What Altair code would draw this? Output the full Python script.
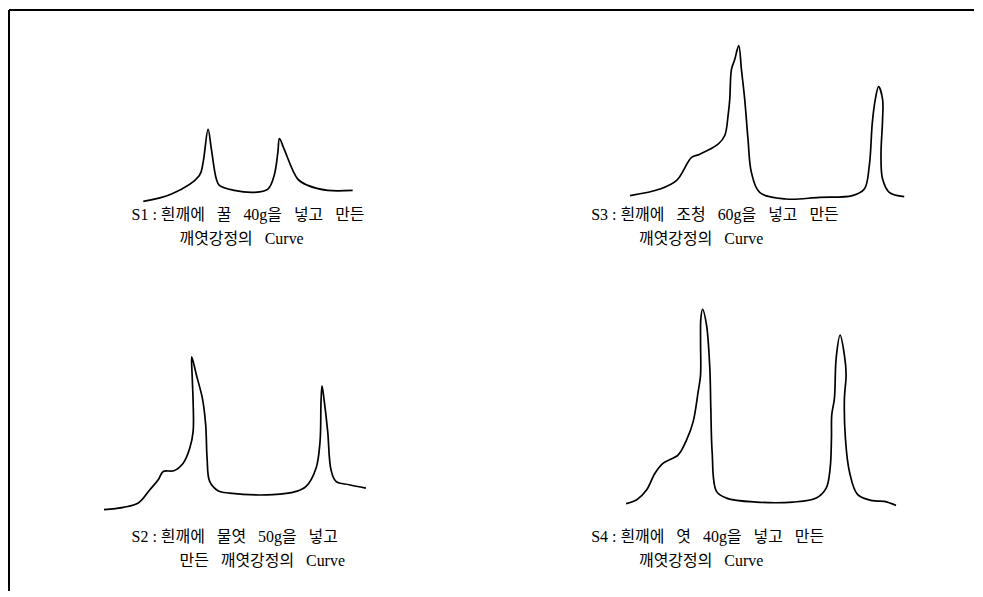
import altair as alt
import pandas as pd

# Curve readings (time units, force units) for each sample
s1_t = [41.7, 70, 98, 101.7, 106.7, 110, 115, 118, 133, 153, 166.7, 173, 176.7, 178.3, 183, 196.7, 206.7, 226.7, 251.7]
s1_f = [1, 8.3, 27, 40, 73.3, 53.3, 23.3, 17, 12, 10, 13.3, 27, 50, 64, 53.3, 23.3, 17, 12, 12]

s3_t = [10, 40, 56.7, 71.7, 80, 98.3, 105, 108.3, 110, 111.7, 115, 119, 121.7, 125, 128.3, 131.7, 140, 166.7, 200, 233,
        245, 250, 253, 256, 259.3, 263.3, 263.3, 261.7, 263.3, 270, 285]
s3_f = [6.7, 13.3, 22, 45, 48.3, 58.3, 67, 87, 103.3, 133.3, 143.3, 157.3, 133.3, 103.3, 63.3, 30, 10, 3.3, 5, 6.7,
        13.3, 37, 80, 103.3, 116, 103.3, 83.3, 47, 23.3, 10, 5.7]

s2_t = [2.3, 21.7, 36.7, 48.3, 56.7, 61.7, 72.3, 81.7, 88.3, 91.7, 91.7, 90.7, 90.3, 95, 101, 104.3, 105.7, 108.3,
        116.7, 128.3, 171.7, 195, 205, 215, 219, 220, 221, 223.3, 226.7, 230, 235, 248.3, 265]
s2_f = [1.7, 4, 8.3, 21.7, 31.7, 40, 40.7, 48.3, 63.3, 80, 110, 136.7, 155, 136.7, 113.3, 86.7, 53.3, 30,
        20.7, 18.3, 16.7, 20, 25, 43.3, 70, 110, 126, 110, 80, 41.7, 30, 26.7, 23.3]

s4_t = [6, 16.7, 26.7, 35, 43.3, 58.3, 66.7, 73.3, 78.3, 80.7, 80.7, 81, 82.7, 86.7, 90, 91, 92.3, 96.7, 106.7,
        136.7, 173.3, 196.7, 206.7, 210.7, 212, 212.3, 215, 216.7, 220.7, 225, 226.7, 225, 226, 230, 238.3, 253.3,
        265, 276.7]
s4_f = [7.7, 11.7, 21.7, 38.3, 48.3, 56.7, 71.7, 90, 120, 136.7, 170, 193.3, 202.7, 186.7, 143.3, 103.3, 60, 20, 13.3,
        9.3, 9.3, 13.3, 23.3, 43.3, 73.3, 96.7, 113.3, 153.3, 176.7, 156.7, 136.7, 113.3, 73.3, 40, 16.7, 10.7,
        10, 6]

SP = "\u00a0\u00a0\u00a0"
captions = {
    "S1": ["S1 :\u00a0흰깨에" + SP + "꿀" + SP + "40g을" + SP + "넣고" + SP + "만든",
           "깨엿강정의" + SP + "Curve"],
    "S3": ["S3 :\u00a0흰깨에" + SP + "조청" + SP + "60g을" + SP + "넣고" + SP + "만든",
           "깨엿강정의" + SP + "Curve"],
    "S2": ["S2 :\u00a0흰깨에" + SP + "물엿" + SP + "50g을" + SP + "넣고",
           "만든" + SP + "깨엿강정의" + SP + "Curve"],
    "S4": ["S4 :\u00a0흰깨에" + SP + "엿" + SP + "40g을" + SP + "넣고" + SP + "만든",
           "깨엿강정의" + SP + "Curve"],
}

FONT = "Liberation Serif, Noto Sans CJK KR"


def frame(t, f):
    return pd.DataFrame({"t": t, "f": f, "i": list(range(len(t)))})


def caption(text, x, y):
    return alt.Chart(pd.DataFrame({"c": [text]})).mark_text(
        align="left", baseline="middle", font=FONT, fontSize=16, color="black"
    ).encode(text="c:N", x=alt.value(x), y=alt.value(y))


def panel(t, f, key, ymax, cx, cy, extra=None):
    base = alt.Chart(frame(t, f)).mark_line(
        color="black", strokeWidth=1.7, interpolate="catmull-rom"
    ).encode(
        x=alt.X("t:Q", axis=None, scale=alt.Scale(domain=[0, 290], nice=False, zero=False)),
        y=alt.Y("f:Q", axis=None, scale=alt.Scale(domain=[0, ymax], nice=False, zero=False)),
        order="i:O",
    )
    lines = captions[key]
    layers = [base, caption(lines[0], cx, cy), caption(lines[1], cx + 48, cy + 24)] + (extra or [])
    return alt.layer(*layers).properties(width=290, height=ymax)


border_v = alt.Chart(pd.DataFrame({"k": [0]})).mark_rule(color="black", strokeWidth=2).encode(
    x=alt.value(-93), y=alt.value(-18), y2=alt.value(565)
)
border_h = alt.Chart(pd.DataFrame({"k": [0]})).mark_rule(color="black", strokeWidth=2).encode(
    x=alt.value(-93), x2=alt.value(875), y=alt.value(-18)
)

tl = panel(s1_t, s1_f, "S1", 175, 30, 188, [border_v, border_h])
tr = panel(s3_t, s3_f, "S3", 175, -29, 188)
bl = panel(s2_t, s2_f, "S2", 210, 30, 236)
br = panel(s4_t, s4_f, "S4", 210, -29, 236)

chart = alt.concat(
    tl, tr, bl, br, columns=2, spacing={"row": 100, "column": 230}, bounds="flush"
).properties(
    padding=0,
    background="white",
).configure_view(stroke=None)

chart.save("out.html", embed_options={"renderer": "svg", "actions": False})
